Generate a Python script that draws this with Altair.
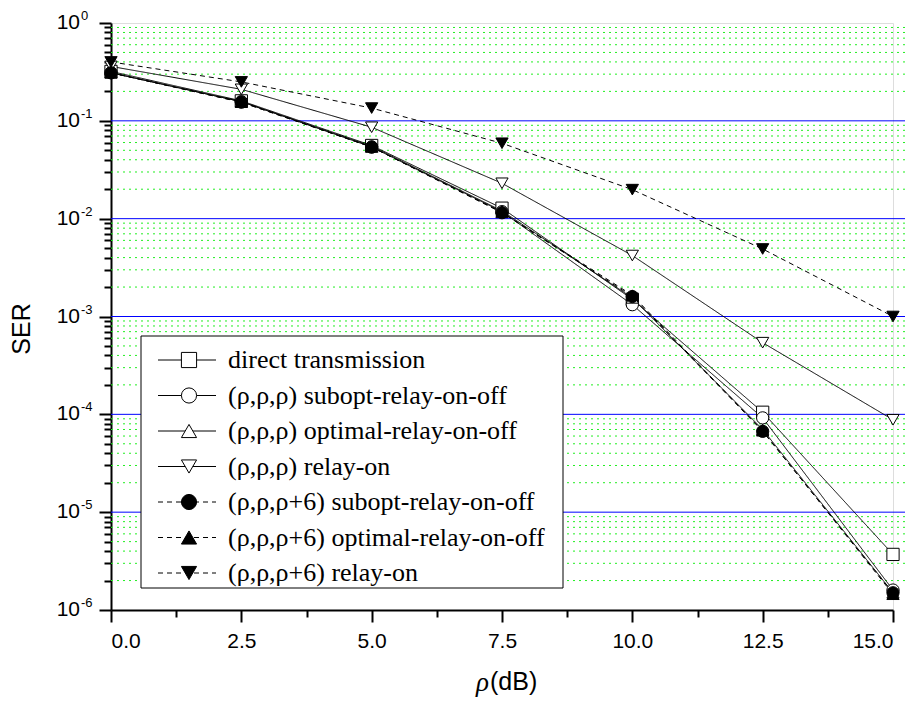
import altair as alt
import pandas as pd

# ---------------- data ----------------
x_vals = [0.0, 2.5, 5.0, 7.5, 10.0, 12.5, 15.0]
names = [
    "direct transmission",
    "(ρ,ρ,ρ) subopt-relay-on-off",
    "(ρ,ρ,ρ) optimal-relay-on-off",
    "(ρ,ρ,ρ) relay-on",
    "(ρ,ρ,ρ+6) subopt-relay-on-off",
    "(ρ,ρ,ρ+6) optimal-relay-on-off",
    "(ρ,ρ,ρ+6) relay-on",
]
direct = [0.32, 0.16, 0.056, 0.0128, 0.0015, 1.05e-4, 3.7e-6]
sub_rrr = [0.31, 0.157, 0.054, 0.0118, 0.00132, 9.2e-5, 1.6e-6]
opt_rrr = [0.31, 0.157, 0.055, 0.0120, 0.00155, 7.0e-5, 1.5e-6]
on_rrr = [0.36, 0.21, 0.086, 0.023, 0.0042, 5.4e-4, 8.8e-5]
sub_6 = [0.31, 0.155, 0.054, 0.0115, 0.0016, 6.7e-5, 1.5e-6]
opt_6 = [0.31, 0.155, 0.054, 0.0116, 0.00165, 6.8e-5, 1.45e-6]
on_6 = [0.40, 0.25, 0.135, 0.059, 0.0198, 0.0049, 1.0e-3]
series_vals = [direct, sub_rrr, opt_rrr, on_rrr, sub_6, opt_6, on_6]

shapes = ["square", "circle", "triangle-up", "triangle-down", "circle", "triangle-up", "triangle-down"]
fills = ["white", "white", "white", "white", "black", "black", "black"]
dashes = [[1, 0], [1, 0], [1, 0], [1, 0], [5, 4], [5, 4], [5, 4]]

x_major = [0.0, 2.5, 5.0, 7.5, 10.0, 12.5, 15.0]
x_minor = [1.25, 3.75, 6.25, 8.75, 11.25, 13.75]
decades = [1e0, 1e-1, 1e-2, 1e-3, 1e-4, 1e-5, 1e-6]
exponents = ["0", "-1", "-2", "-3", "-4", "-5", "-6"]
blue_grid = [1e-1, 1e-2, 1e-3, 1e-4, 1e-5]
minor_y = [m * 10.0 ** (-k) for k in range(1, 7) for m in range(2, 10)]

rows = []
for i, (nm, vals) in enumerate(zip(names, series_vals)):
    for xv, yv in zip(x_vals, vals):
        rows.append({"x": xv, "ser": yv, "series": nm, "order": i})
df = pd.DataFrame(rows)

W, H = 782, 587
FONT = "Liberation Sans"
SERIF = "Liberation Serif"

xscale = alt.Scale(domain=[0, 15], nice=False, zero=False)
yscale = alt.Scale(type="log", domain=[1e-6, 1], nice=False)

shape_s = alt.Scale(domain=names, range=shapes)
fill_s = alt.Scale(domain=names, range=fills)
dash_s = alt.Scale(domain=names, range=dashes)

# ---------------- grid + axes ----------------
minor_df = pd.DataFrame({"v": minor_y})
major_df = pd.DataFrame({"v": blue_grid})

green_grid = alt.Chart(minor_df).mark_rule(color="#22ee22", strokeWidth=1, strokeDash=[2, 4]).encode(
    y=alt.Y("v:Q", scale=yscale,
            axis=alt.Axis(values=minor_y, tickSize=7, labels=False, domain=False, grid=False,
                          title=None, tickWidth=2, tickColor="black", orient="left")),
    x=alt.value(0), x2=alt.value(794),
)
blue_rules = alt.Chart(major_df).mark_rule(color="#0000ff", strokeWidth=1).encode(
    y=alt.Y("v:Q", scale=yscale,
            axis=alt.Axis(values=decades, tickSize=12, labels=False, domain=True, grid=False,
                          title=None, tickWidth=2, tickColor="black", domainWidth=2,
                          domainColor="black", orient="left")),
    x=alt.value(0), x2=alt.value(794),
)

xminor_df = pd.DataFrame({"x": x_minor})
x_minor_axis = alt.Chart(xminor_df).mark_tick(opacity=0).encode(
    x=alt.X("x:Q", scale=xscale,
            axis=alt.Axis(values=x_minor, tickSize=7, labels=False, domain=False, grid=False,
                          title=None, tickWidth=2, tickColor="black", orient="bottom")),
    y=alt.value(0),
)

# ---------------- data lines & points ----------------
lines = alt.Chart(df).mark_line(color="black", strokeWidth=1).encode(
    x=alt.X("x:Q", scale=xscale,
            axis=alt.Axis(values=x_major, format=".1f", tickSize=12, tickWidth=2, tickColor="black",
                          domainWidth=2, domainColor="black", grid=False, title=None,
                          labelFont=FONT, labelFontSize=21, labelColor="black", labelPadding=8,
                          orient="bottom")),
    y=alt.Y("ser:Q", scale=yscale, axis=None),
    detail="series:N",
    strokeDash=alt.StrokeDash("series:N", scale=dash_s, legend=None),
    order="x:Q",
)
points = alt.Chart(df).mark_point(filled=True, stroke="black", strokeWidth=1, opacity=1, size=150).encode(
    x=alt.X("x:Q", scale=xscale, axis=None),
    y=alt.Y("ser:Q", scale=yscale, axis=None),
    shape=alt.Shape("series:N", scale=shape_s, legend=None),
    fill=alt.Fill("series:N", scale=fill_s, legend=None),
    order="order:Q",
)

# ---------------- y tick labels (10 with superscript) ----------------
lab_df = pd.DataFrame({"v": decades, "e": exponents, "b": ["10"] * len(decades)})
ten = alt.Chart(lab_df).mark_text(font=FONT, fontSize=21, align="right", baseline="middle", color="black").encode(
    y=alt.Y("v:Q", scale=yscale, axis=None), x=alt.value(-31), text="b:N")
sup = alt.Chart(lab_df).mark_text(font=FONT, fontSize=13, align="left", baseline="alphabetic", dy=-3,
                                  color="black").encode(
    y=alt.Y("v:Q", scale=yscale, axis=None), x=alt.value(-30), text="e:N")

# ---------------- axis titles ----------------
one = pd.DataFrame({"a": [0]})
ser_title = alt.Chart(one).mark_text(text="SER", font=FONT, fontSize=25, angle=270, color="black",
                                     align="center", baseline="middle").encode(
    x=alt.value(-89), y=alt.value(306))
rho_title = alt.Chart(one).mark_text(text="ρ", font=SERIF, fontStyle="italic", fontSize=27, color="black",
                                     align="right", baseline="middle").encode(
    x=alt.value(378), y=alt.value(660))
db_title = alt.Chart(one).mark_text(text="(dB)", font=FONT, fontSize=25, color="black",
                                    align="left", baseline="middle").encode(
    x=alt.value(379), y=alt.value(659))

# ---------------- legend ----------------
leg_df = pd.DataFrame({"series": names})
leg_y = alt.Scale(type="point", domain=names, range=[337, 550], padding=0)

leg_box = alt.Chart(one).mark_rect(fill="white", stroke="black", strokeWidth=1).encode(
    x=alt.value(30), x2=alt.value(452), y=alt.value(313), y2=alt.value(565))
leg_lines = alt.Chart(leg_df).mark_rule(color="black", strokeWidth=1).encode(
    x=alt.value(47), x2=alt.value(105),
    y=alt.Y("series:N", scale=leg_y, axis=None),
    strokeDash=alt.StrokeDash("series:N", scale=dash_s, legend=None),
)
leg_pts = alt.Chart(leg_df).mark_point(filled=True, stroke="black", strokeWidth=1, opacity=1, size=230).encode(
    x=alt.value(78),
    y=alt.Y("series:N", scale=leg_y, axis=None),
    shape=alt.Shape("series:N", scale=shape_s, legend=None),
    fill=alt.Fill("series:N", scale=fill_s, legend=None),
)
leg_txt = alt.Chart(leg_df).mark_text(font=SERIF, fontSize=26, align="left", baseline="middle",
                                      color="black").encode(
    x=alt.value(117),
    y=alt.Y("series:N", scale=leg_y, axis=None),
    text="series:N",
)

chart = alt.layer(
    green_grid, blue_rules, x_minor_axis, lines, points, ten, sup,
    ser_title, rho_title, db_title, leg_box, leg_lines, leg_pts, leg_txt,
).resolve_scale(y="independent").resolve_axis(x="independent", y="independent").properties(
    width=W, height=H,
    autosize=alt.AutoSizeParams(type="none"),
    padding={"left": 103, "top": 15, "right": 19, "bottom": 87},
).configure_view(strokeWidth=0).configure(background="white")

chart.save("out.html", embed_options={"renderer": "svg", "actions": False})
